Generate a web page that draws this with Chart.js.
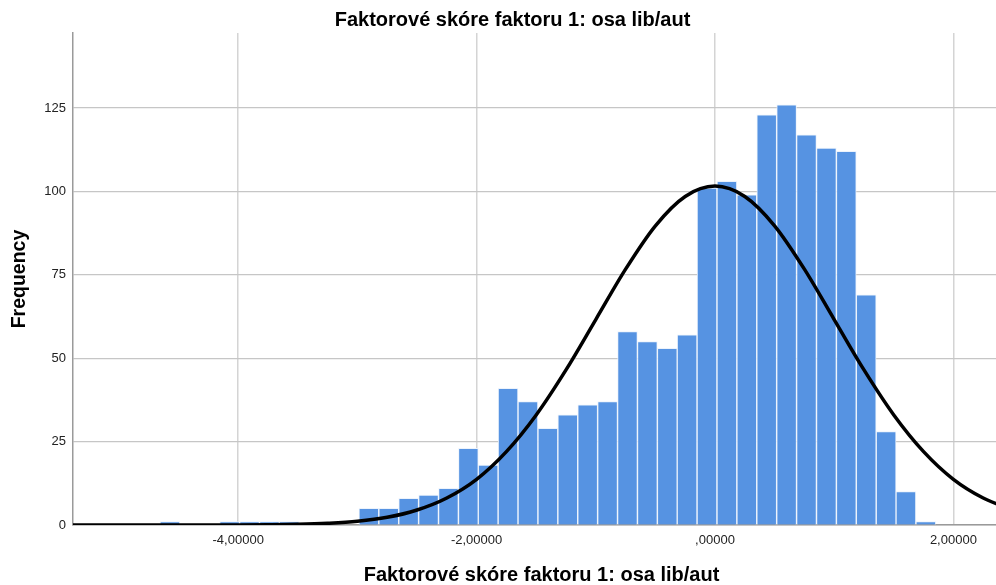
<!DOCTYPE html>
<html><head><meta charset="utf-8">
<script src="https://cdn.jsdelivr.net/npm/chart.js@4/dist/chart.umd.min.js"></script>
<style>
html,body{margin:0;padding:0;background:#fff;overflow:hidden;}
#wrap{position:relative;width:1010px;height:585px;}
</style></head><body>
<div id="wrap"><canvas id="c" width="1010" height="585"></canvas></div>
<script>
const chartTitle = 'Faktorové skóre faktoru 1: osa lib/aut';
const xAxisTitle = 'Faktorové skóre faktoru 1: osa lib/aut';
const yAxisTitle = 'Frequency';

const binCenters = [-4.573, -4.406, -4.239, -4.072, -3.905, -3.738, -3.572, -3.405, -3.238, -3.071,
  -2.904, -2.737, -2.570, -2.403, -2.236, -2.069, -1.903, -1.736, -1.569, -1.402,
  -1.235, -1.068, -0.901, -0.734, -0.567, -0.400, -0.234, -0.067, 0.100, 0.267,
  0.434, 0.601, 0.768, 0.935, 1.102, 1.269, 1.436, 1.602, 1.769];
const frequencies = [1, 0, 0, 1, 1, 1, 1, 0, 0, 0,
  5, 5, 8, 9, 11, 23, 18, 41, 37, 29,
  33, 36, 37, 58, 55, 53, 57, 101, 103, 99,
  123, 126, 117, 113, 112, 69, 28, 10, 1];

const curveX = [-5.5, -5.0, -4.5, -4.0, -3.75, -3.5, -3.25, -3.0, -2.75, -2.5, -2.25, -2.0, -1.75, -1.5, -1.25, -1.0,
  -0.75, -0.5, -0.25, 0, 0.25, 0.5, 0.75, 1.0, 1.25, 1.5, 1.75, 2.0, 2.25, 2.5];
const curveY = [0, 0, 0, 0.03, 0.09, 0.22, 0.52, 1.1, 2.3, 4.5, 8.1, 13.7, 22.0, 33.0, 46.5, 61.6,
  76.7, 89.7, 98.5, 101.6, 98.5, 89.7, 76.7, 61.6, 46.5, 33.0, 22.0, 13.7, 8.1, 4.5];

const xTickValues = [-4, -2, 0, 2];
const xTickLabels = ['-4,00000', '-2,00000', ',00000', '2,00000'];
const yTickValues = [0, 25, 50, 75, 100, 125];
const yTickLabels = ['0', '25', '50', '75', '100', '125'];

const FONT = '"Liberation Sans", Arial, Helvetica, sans-serif';

new Chart(document.getElementById('c'), {
  type: 'bar',
  data: {
    datasets: [
      {
        type: 'line',
        data: curveX.map((x, i) => ({x: x, y: curveY[i]})),
        borderColor: '#000000',
        borderWidth: 3.5,
        pointRadius: 0,
        cubicInterpolationMode: 'monotone',
        fill: false,
        order: 0
      },
      {
        type: 'bar',
        data: binCenters.map((x, i) => ({x: x, y: frequencies[i]})),
        backgroundColor: '#5693E2',
        borderColor: 'rgba(235,242,252,0.95)',
        borderWidth: 1,
        borderSkipped: 'bottom',
        barPercentage: 1,
        categoryPercentage: 1,
        order: 1
      }
    ]
  },
  options: {
    responsive: false,
    animation: false,
    layout: {padding: {left: 15, right: 0, top: 0, bottom: 0}},
    plugins: {
      legend: {display: false},
      tooltip: {enabled: false},
      title: {
        display: true,
        text: chartTitle,
        color: '#000',
        font: {family: FONT, size: 20, weight: 'bold', lineHeight: 1},
        padding: {top: 10, bottom: 3}
      }
    },
    scales: {
      x: {
        type: 'linear',
        min: -5.386,
        max: 2.475,
        offset: false,
        grid: {color: '#d4d4d4', lineWidth: 1.5, drawTicks: false, offset: false},
        border: {display: true, color: '#9a9a9a', width: 1.5},
        afterBuildTicks: s => { s.ticks = xTickValues.map(v => ({value: v})); },
        afterFit: s => { s.height = 60; },
        ticks: {
          autoSkip: false, maxRotation: 0, padding: 8, color: '#222',
          font: {family: FONT, size: 13},
          callback: v => xTickLabels[xTickValues.indexOf(v)]
        },
        title: {
          display: true, text: xAxisTitle, color: '#000',
          font: {family: FONT, size: 20, weight: 'bold', lineHeight: 1},
          padding: {top: 0, bottom: 0}
        }
      },
      y: {
        min: 0,
        max: 147.5,
        grid: {color: '#c6c6c6', lineWidth: 1.2, drawTicks: false},
        border: {display: true, color: '#9a9a9a', width: 1.5},
        afterBuildTicks: s => { s.ticks = yTickValues.map(v => ({value: v})); },
        afterFit: s => { s.width = 58; },
        ticks: {
          padding: 7, color: '#222',
          font: {family: FONT, size: 13},
          callback: v => yTickLabels[yTickValues.indexOf(v)]
        },
        title: {
          display: true, text: yAxisTitle, color: '#000',
          font: {family: FONT, size: 19.5, weight: 'bold', lineHeight: 1},
          padding: {top: -4.8, bottom: 0}
        }
      }
    }
  }
});
</script>
</body></html>
